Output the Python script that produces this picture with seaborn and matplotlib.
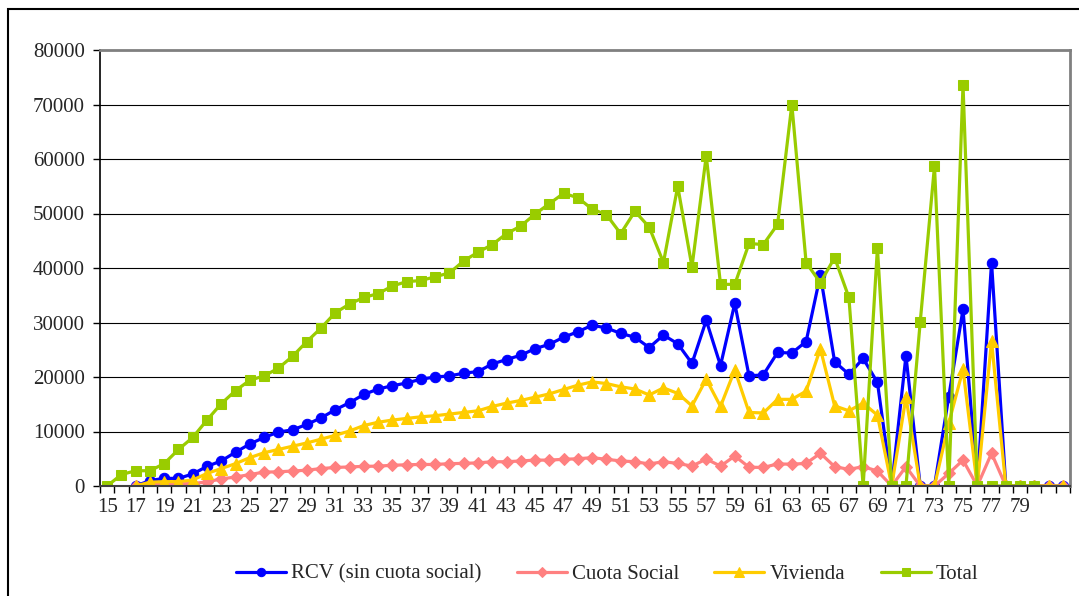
import numpy as np
import pandas as pd
import matplotlib
matplotlib.use("Agg")
import matplotlib.pyplot as plt
from matplotlib.patches import Rectangle
import seaborn as sns

nan = np.nan
edades = list(range(15, 83))

rcv = [nan, nan, 0, 1000, 1400, 1400, 2200, 3600, 4600, 6200,
       7700, 8900, 9900, 10300, 11300, 12500, 14000, 15300, 16800, 17800,
       18400, 18900, 19600, 20000, 20200, 20700, 21000, 22400, 23200, 24000,
       25200, 26000, 27300, 28300, 29500, 29000, 28000, 27300, 25400, 27700,
       26100, 22500, 30400, 22100, 33500, 20200, 20400, 24500, 24400, 26500,
       38700, 22800, 20500, 23400, 19000, 0, 23900, 0, 0, 16400,
       32400, 0, 41000, 0, 0, 0, 0, 0]

cuota = [nan, nan, 0, 250, 400, 400, 450, 750, 1300, 1650,
         2100, 2550, 2600, 2750, 2900, 3200, 3400, 3500, 3600, 3650,
         3800, 3900, 3950, 3950, 4100, 4150, 4250, 4450, 4450, 4600,
         4750, 4750, 4900, 5000, 5200, 4900, 4600, 4450, 4050, 4450,
         4150, 3650, 4950, 3650, 5500, 3450, 3400, 4050, 4000, 4150,
         6000, 3550, 3050, 3550, 2750, 0, 3550, 0, 0, 2300,
         4750, 0, 6000, 0, 0, 0, 0, 0]

vivienda = [nan, nan, 0, 700, 800, 800, 1100, 2300, 3200, 4100,
            5200, 6100, 6700, 7300, 7900, 8600, 9300, 10100, 11100, 11700,
            12100, 12400, 12700, 12900, 13200, 13500, 13800, 14600, 15200, 15700,
            16300, 16900, 17700, 18500, 19100, 18800, 18200, 17800, 16700, 18000,
            17000, 14700, 19600, 14600, 21300, 13500, 13400, 15900, 15900, 17400,
            25200, 14700, 13800, 15200, 13000, 0, 16300, 0, 0, 11500,
            21400, 0, 26600, 0, 0, 0, 0, 0]

total = [0, 2100, 2800, 2800, 4100, 6700, 8900, 12100, 15100, 17500,
         19400, 20200, 21600, 23800, 26500, 29000, 31800, 33400, 34600, 35300,
         36700, 37500, 37700, 38400, 39100, 41300, 42900, 44300, 46300, 47700,
         49900, 51800, 53700, 52900, 50800, 49800, 46300, 50400, 47500, 41000,
         55000, 40200, 60600, 37000, 37000, 44500, 44300, 48000, 70000, 41000,
         37300, 41900, 34600, 0, 43700, 0, 0, 30100, 58700, 0,
         73600, 0, 0, 0, 0, 0, nan, nan]

series_names = ["RCV (sin cuota social)", "Cuota Social", "Vivienda", "Total"]
series_values = [rcv, cuota, vivienda, total]
colors = ["#0000FF", "#FF8080", "#FFCC00", "#99CC00"]
markers = ["o", "D", "^", "s"]
msizes = [7.5, 6.5, 8.5, 7.5]

xtick_labels = list(range(15, 80, 2))
yticks = list(range(0, 80001, 10000))

sns.set_style("white")
plt.rcParams["font.family"] = ["Liberation Serif", "DejaVu Serif"]
FS = 15

W, H = 1079, 596
fig = plt.figure(figsize=(W / 100, H / 100), dpi=100)
ax = fig.add_axes([100 / W, 1 - 486 / H, (1070 - 100) / W, (486 - 50) / H])

for name, vals, c, m, ms in zip(series_names, series_values, colors, markers, msizes):
    df = pd.DataFrame({"edad": edades, "valor": vals}).dropna()
    sns.lineplot(data=df, x="edad", y="valor", ax=ax, color=c, marker=m,
                 markersize=ms, markeredgecolor=c, linewidth=2.3,
                 label=name, legend=False)

ax.set_xlim(14.5, 82.5)
ax.set_ylim(0, 80000)
ax.set_xlabel("")
ax.set_ylabel("")

ax.set_yticks(yticks)
ax.set_yticklabels([str(v) for v in yticks], fontsize=FS)
ax.yaxis.grid(True, color="black", linewidth=0.8)
ax.set_axisbelow(True)
ax.tick_params(axis="y", which="major", length=5, width=1, color="black",
               direction="out", pad=6, left=True)

ax.set_xticks(np.arange(14.5, 83, 1.0))
ax.set_xticklabels([])
ax.tick_params(axis="x", which="major", length=5, width=1, color="black",
               direction="out", bottom=True)
ax.set_xticks(xtick_labels, minor=True)
ax.set_xticklabels([str(v) for v in xtick_labels], minor=True, fontsize=FS)
ax.tick_params(axis="x", which="minor", length=0, pad=9)

for side in ["top", "right"]:
    ax.spines[side].set_color("#808080")
    ax.spines[side].set_linewidth(2)
ax.spines["left"].set_color("black")
ax.spines["left"].set_linewidth(1.2)
ax.spines["bottom"].set_color("#404040")
ax.spines["bottom"].set_linewidth(1.5)

handles, labels = ax.get_legend_handles_labels()
fig.legend(handles, labels, loc="center", bbox_to_anchor=(607 / W, 1 - 574 / H),
           ncol=4, frameon=False, fontsize=FS, handlelength=2.4,
           handletextpad=0.25, columnspacing=1.7, markerscale=0.8)

fig.patches.append(Rectangle((8 / W, -0.1), 1.2, (H - 9) / H + 0.1,
                             transform=fig.transFigure, fill=False,
                             edgecolor="black", linewidth=1.5))

fig.savefig("out.png", dpi=100)
